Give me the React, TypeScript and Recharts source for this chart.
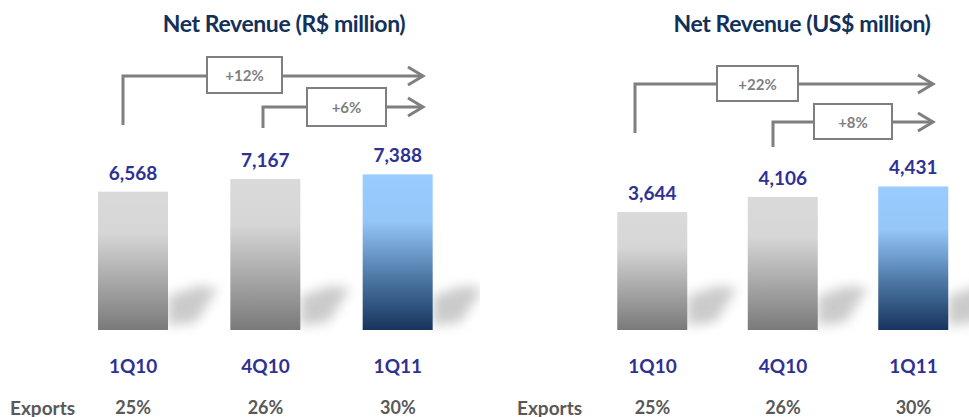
import { BarChart, Bar, XAxis, YAxis, Cell, LabelList } from 'recharts';

const categories = ['1Q10', '4Q10', '1Q11'];
const revenueBRL = [6568, 7167, 7388];
const revenueUSD = [3644, 4106, 4431];
const exportsShare = ['25%', '26%', '30%'];
const growthBRL = ['+12%', '+6%'];
const growthUSD = ['+22%', '+8%'];
const highlight = '1Q11';

const FONT = 'Lato, "Open Sans", sans-serif';
const NAVY = '#12315A';
const INDIGO = '#2E3192';
const GREY_TEXT = '#595959';
const ARROW = '#7F7F7F';

const fmt = (v: number) => v.toLocaleString('en-US');

// bar with the soft floor shadow to its right
function BarWithShadow(props: any) {
    const { x, y, width, height, fill } = props;
    const bx = x + width;
    const by = y + height;
    return (
        <g>
            <polygon
                points={`${bx},${by - 4} ${bx},${by - 34} ${bx + 30},${by - 44} ${bx + 50},${by - 42} ${bx + 28},${by - 8}`}
                fill="#a8a8a8"
                opacity={0.6}
                filter="url(#shadowBlur)"
            />
            <rect x={x} y={y} width={width} height={height} fill={fill} />
        </g>
    );
}

function CategoryTick(props: any) {
    const { x, payload, index } = props;
    return (
        <g>
            <text x={x} y={365} textAnchor="middle" dominantBaseline="central"
                fontFamily={FONT} fontWeight={700} fontSize={19} fill={INDIGO}>
                {payload.value}
            </text>
            <text x={x} y={407} textAnchor="middle" dominantBaseline="central"
                fontFamily={FONT} fontWeight={700} fontSize={18} fill={GREY_TEXT}>
                {exportsShare[index]}
            </text>
        </g>
    );
}

interface ArrowSpec {
    x: number;
    y0: number;
    y1: number;
    end: number;
    box: [number, number, number, number];
    label: string;
}

function GrowthArrow({ a }: { a: ArrowSpec }) {
    const [bx, by, bw, bh] = a.box;
    return (
        <g>
            <polyline points={`${a.x},${a.y0} ${a.x},${a.y1} ${a.end},${a.y1}`}
                fill="none" stroke={ARROW} strokeWidth={3} />
            <polyline points={`${a.end - 15},${a.y1 - 9} ${a.end},${a.y1} ${a.end - 15},${a.y1 + 9}`}
                fill="none" stroke={ARROW} strokeWidth={3} />
            <rect x={bx} y={by} width={bw} height={bh} fill="#fff" stroke={ARROW} strokeWidth={2} />
            <text x={bx + bw / 2} y={by + bh / 2} textAnchor="middle" dominantBaseline="central"
                fontFamily={FONT} fontWeight={700} fontSize={15} fill={ARROW}>
                {a.label}
            </text>
        </g>
    );
}

interface PanelProps {
    values: number[];
    left: number;
    width: number;
    marginLeft: number;
    marginRight: number;
    marginTop: number;
    max: number;
    id: string;
}

function Panel({ values, left, width, marginLeft, marginRight, marginTop, max, id }: PanelProps) {
    const data = categories.map((c, i) => ({ name: c, value: values[i] }));
    return (
        <div style={{ position: 'absolute', left, top: 0 }}>
            <BarChart width={width} height={417} data={data}
                margin={{ top: marginTop, right: marginRight, bottom: 0, left: marginLeft }}>
                <defs>
                    <linearGradient id={`grey-${id}`} x1="0" y1="0" x2="0" y2="1">
                        <stop offset="0%" stopColor="#DADADA" />
                        <stop offset="30%" stopColor="#D6D6D6" />
                        <stop offset="100%" stopColor="#7A7A7A" />
                    </linearGradient>
                    <linearGradient id={`blue-${id}`} x1="0" y1="0" x2="0" y2="1">
                        <stop offset="0%" stopColor="#99CCFF" />
                        <stop offset="30%" stopColor="#95C6F8" />
                        <stop offset="65%" stopColor="#4F7AA8" />
                        <stop offset="100%" stopColor="#17345E" />
                    </linearGradient>
                    <filter id="shadowBlur" x="-50%" y="-50%" width="200%" height="200%">
                        <feGaussianBlur stdDeviation="6" />
                    </filter>
                </defs>
                <XAxis dataKey="name" axisLine={false} tickLine={false} height={87}
                    interval={0} tick={<CategoryTick />} />
                <YAxis hide domain={[0, max]} />
                <Bar dataKey="value" barSize={70} isAnimationActive={false} shape={<BarWithShadow />}>
                    {data.map(d => (
                        <Cell key={d.name} fill={d.name === highlight ? `url(#blue-${id})` : `url(#grey-${id})`} />
                    ))}
                    <LabelList dataKey="value" position="top" offset={12} formatter={(v: any) => fmt(Number(v))}
                        style={{ fontFamily: FONT, fontWeight: 700, fontSize: 19, fill: INDIGO }} />
                </Bar>
            </BarChart>
        </div>
    );
}

const arrowsBRL: ArrowSpec[] = [
    { x: 123, y0: 125, y1: 76, end: 423, box: [207, 57, 75, 36], label: growthBRL[0] },
    { x: 263, y0: 128, y1: 107, end: 423, box: [307, 88, 79, 38], label: growthBRL[1] },
];
const arrowsUSD: ArrowSpec[] = [
    { x: 635, y0: 133, y1: 84, end: 933, box: [717, 66, 81, 35], label: growthUSD[0] },
    { x: 773, y0: 147, y1: 122, end: 933, box: [814, 104, 78, 35], label: growthUSD[1] },
];

const titleStyle = { fontFamily: FONT, fontWeight: 700, fontSize: 23, letterSpacing: -0.4 };

export default function App() {
    return (
        <div style={{ position: 'absolute', left: 0, top: 0, width: 969, height: 417, overflow: 'hidden', background: '#fff' }}>
            <Panel id="brl" values={revenueBRL} left={0} width={480} marginLeft={67} marginRight={16}
                marginTop={161.5} max={8000} />
            <Panel id="usd" values={revenueUSD} left={480} width={520} marginLeft={107.25} marginRight={21.25}
                marginTop={168} max={5000} />
            <svg width={969} height={417} style={{ position: 'absolute', left: 0, top: 0, pointerEvents: 'none' }}>
                <text x={284} y={32} textAnchor="middle" fill={NAVY} style={titleStyle}>
                    Net Revenue (R$ million)
                </text>
                <text x={802} y={32} textAnchor="middle" fill={NAVY} style={titleStyle}>
                    Net Revenue (US$ million)
                </text>
                {arrowsBRL.map(a => <GrowthArrow key={a.label} a={a} />)}
                {arrowsUSD.map(a => <GrowthArrow key={a.label} a={a} />)}
                <text x={10} y={407} dominantBaseline="central" fontFamily={FONT} fontWeight={700} fontSize={19} fill={GREY_TEXT}>
                    Exports
                </text>
                <text x={517} y={407} dominantBaseline="central" fontFamily={FONT} fontWeight={700} fontSize={19} fill={GREY_TEXT}>
                    Exports
                </text>
            </svg>
        </div>
    );
}
